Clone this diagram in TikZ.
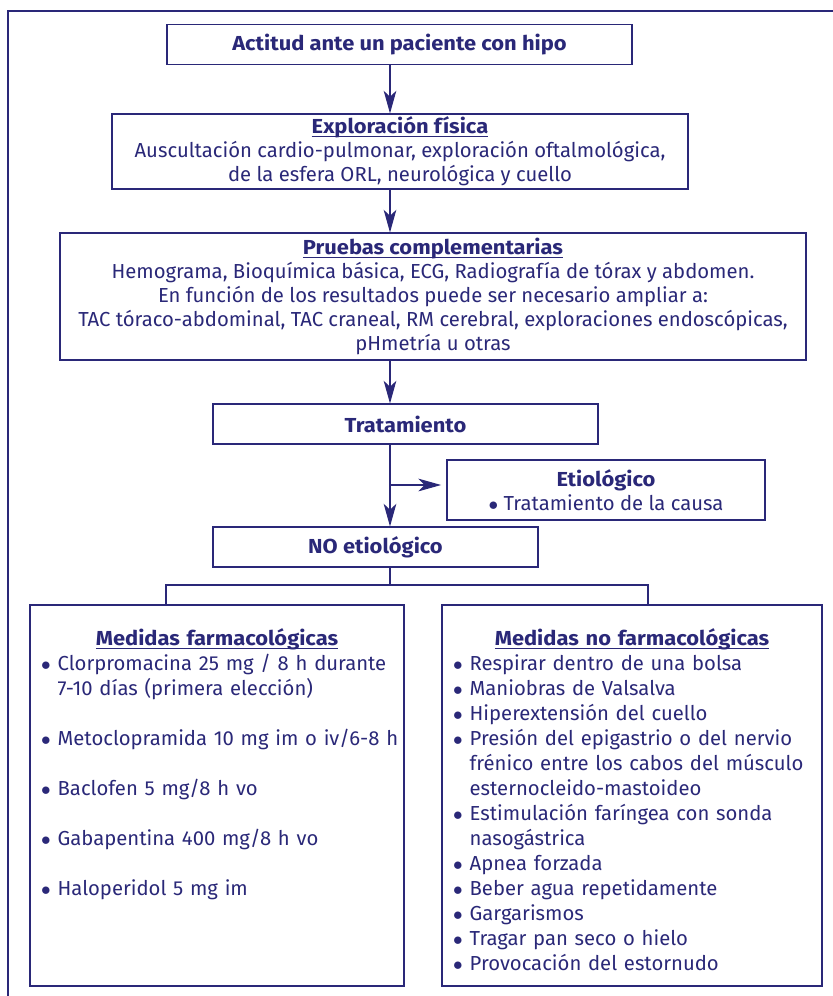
\documentclass[tikz,border=0pt]{standalone}
\usepackage{fontspec}
\setmainfont{Fira Sans}[BoldFeatures={FakeStretch=1.08}]
\usepackage{tikz}
\usetikzlibrary{arrows.meta,positioning}
\definecolor{hipoblue}{RGB}{42,40,120}
\newlength\px \setlength\px{0.75pt}
\setlength\parindent{0pt}
\newsavebox\hdbox
% bold heading with a low underline
\newcommand{\hd}[1]{\sbox\hdbox{\textbf{#1}}\rlap{\rule[-2.6pt]{\wd\hdbox}{0.75pt}}\usebox\hdbox}
\newcommand{\bul}{\makebox[12.5pt][l]{$\bullet$}}
\tikzset{
  hp box/.style={
    rectangle,
    draw=hipoblue,
    line width=1.1\px,
    inner sep=0pt,
    text=hipoblue,
    align=center,
    font=\fontsize{15.2}{18}\selectfont,
  },
  hp list/.style={
    inner sep=0pt,
    text=hipoblue,
    font=\fontsize{15.2}{18.75}\selectfont,
  },
  hp arrow/.style={-{Stealth[length=17pt,width=9.5pt,inset=4.5pt]}, draw=hipoblue, line width=1.1\px},
  hp line/.style={draw=hipoblue, line width=1.1\px},
  hp frame/.style={draw=hipoblue, line width=2.5\px},
}
\begin{document}
\begin{tikzpicture}[x=0.75pt,y=-0.75pt]
  \useasboundingbox[fill=white] (0,0) rectangle (832,996);
  \draw[hp frame] (8,998) -- (8,11) -- (834,11);

  \node[hp box, minimum width=465\px, minimum height=40\px] (attitude) at (399.5,44.5)
    {\textbf{Actitud ante un paciente con hipo}};
  \node[hp box, minimum width=576\px, minimum height=75\px] (exam) at (400,151.5)
    {\hd{Exploración física}\\
     Auscultación cardio-pulmonar, exploración oftalmológica,\\
     de la esfera ORL, neurológica y cuello};
  \node[hp box, minimum width=746\px, minimum height=127\px] (tests) at (433,296.5)
    {\hd{Pruebas complementarias}\\
     Hemograma, Bioquímica básica, ECG, Radiografía de tórax y abdomen.\\
     En función de los resultados puede ser necesario ampliar a:\\
     TAC tóraco-abdominal, TAC craneal, RM cerebral, exploraciones endoscópicas,\\
     pHmetría u otras};
  \node[hp box, minimum width=385\px, minimum height=40\px] (treat) at (405.5,424)
    {\textbf{Tratamiento}};
  \node[hp box, minimum width=318\px, minimum height=60\px] (etio) at (606,490)
    {\textbf{Etiológico}\\ $\bullet$\ Tratamiento de la causa};
  \node[hp box, minimum width=325\px, minimum height=40\px] (noetio) at (375.5,547)
    {\textbf{NO etiológico}};
  \node[hp box, minimum width=374\px, minimum height=381\px] (pharm) at (217,795.5) {};
  \node[hp box, minimum width=380\px, minimum height=381\px] (nopharm) at (632,795.5) {};

  \node[hp list, text width=352\px, below=17.5pt of pharm.north] (pharmlist)
    {{\centering\strut\hd{Medidas farmacológicas}\par}
     \begin{tabular}[t]{@{}l@{}l@{}}
       \bul & Clorpromacina 25 mg / 8 h durante\\
            & 7-10 días (primera elección)\\
            & \\
       \bul & Metoclopramida 10 mg im o iv/6-8 h\\
            & \\
       \bul & Baclofen 5 mg/8 h vo\\
            & \\
       \bul & Gabapentina 400 mg/8 h vo\\
            & \\
       \bul & Haloperidol 5 mg im
     \end{tabular}};
  \node[hp list, text width=358\px, below=17.5pt of nopharm.north] (nopharmlist)
    {{\centering\strut\hd{Medidas no farmacológicas}\par}
     \begin{tabular}[t]{@{}l@{}l@{}}
       \bul & Respirar dentro de una bolsa\\
       \bul & Maniobras de Valsalva\\
       \bul & Hiperextensión del cuello\\
       \bul & Presión del epigastrio o del nervio\\
            & frénico entre los cabos del músculo\\
            & esternocleido-mastoideo\\
       \bul & Estimulación faríngea con sonda\\
            & nasogástrica\\
       \bul & Apnea forzada\\
       \bul & Beber agua repetidamente\\
       \bul & Gargarismos\\
       \bul & Tragar pan seco o hielo\\
       \bul & Provocación del estornudo
     \end{tabular}};

  \coordinate (spine) at (390,0);
  \coordinate (fork) at (390,485);
  \coordinate (split) at (390,585);
  \coordinate (leftdrop) at (166,585);
  \coordinate (rightdrop) at (648,585);

  \draw[hp arrow] (spine |- attitude.south) -- (spine |- exam.north);
  \draw[hp arrow] (spine |- exam.south) -- (spine |- tests.north);
  \draw[hp arrow] (spine |- tests.south) -- (spine |- treat.north);
  \draw[hp arrow] (spine |- treat.south) -- (spine |- noetio.north);
  \draw[hp arrow, shorten >=4pt] (fork) -- (fork -| etio.west);
  \draw[hp line] (spine |- noetio.south) -- (split);
  \draw[hp line] (leftdrop |- pharm.north) -- (leftdrop) -- (rightdrop) -- (rightdrop |- nopharm.north);
\end{tikzpicture}
\end{document}
